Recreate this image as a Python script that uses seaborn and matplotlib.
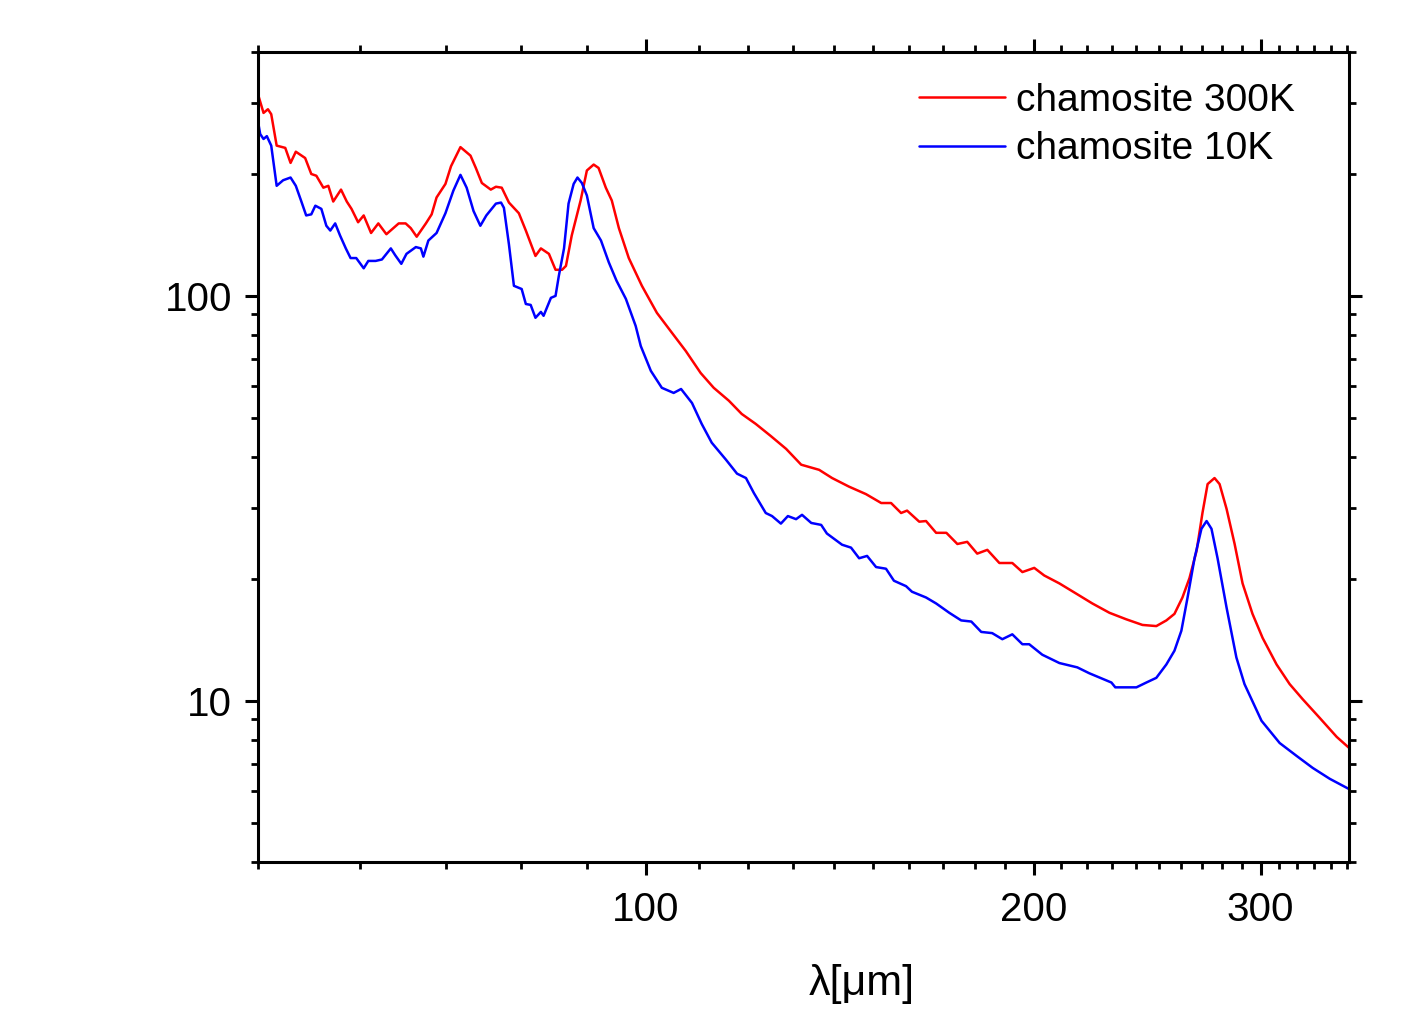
import matplotlib
matplotlib.use("Agg")
import matplotlib.pyplot as plt
import seaborn as sns
from matplotlib.ticker import FixedLocator, FixedFormatter, NullFormatter

# wavelength (um) and absorption
wl_300K = [50.0, 50.5, 50.9, 51.2, 51.7, 52.5, 53.0, 53.5, 54.4, 55.0,
           55.5, 56.2, 56.7, 57.2, 58.0, 58.6, 59.1, 59.8, 60.4, 61.2,
           62.0, 62.9, 64.3, 65.1, 65.7, 66.4, 67.5, 68.2, 68.8, 69.9,
           70.6, 71.8, 73.1, 73.8, 74.6, 75.8, 76.5, 77.3, 78.3, 79.7,
           80.7, 82.1, 82.9, 84.1, 85.1, 86.1, 86.7, 87.6, 89.0, 90.0,
           91.1, 91.9, 93.1, 94.1, 95.3, 97.0, 99.3, 100.0, 102.0, 104.8,
           107.4, 110.3, 112.9, 116.0, 118.7, 121.7, 125.0, 128.5, 132.0, 136.3,
           139.5, 143.8, 148.2, 152.3, 155.0, 157.8, 159.5, 163.0, 165.0, 168.0,
           171.1, 174.5, 177.6, 180.8, 184.1, 188.1, 192.5, 196.0, 200.2, 203.8,
           209.4, 215.8, 222.1, 229.0, 236.0, 242.9, 249.0, 253.5, 257.2, 260.9,
           264.2, 267.6, 270.4, 272.9, 276.3, 278.8, 282.3, 286.4, 290.5, 295.7,
           301.1, 308.7, 316.0, 323.4, 333.4, 343.7, 351.3]
abs_300K = [315, 283, 289, 281, 235, 232, 213, 227, 219, 200,
            198, 185, 187, 171, 183, 171, 164, 152, 158, 143,
            151, 142, 151, 151, 147, 140, 151, 159, 175, 189,
            209, 233, 222, 207, 190, 183, 186, 185, 170, 160,
            145, 125.5, 131, 127, 116, 116, 118.6, 141, 172, 204,
            211, 207, 185, 172, 147, 124, 105.9, 101.7, 90.8, 81.0,
            73.1, 64.5, 59.3, 55.1, 51.1, 48.3, 45.1, 41.9, 38.3, 37.2,
            35.5, 33.8, 32.4, 30.8, 30.8, 29.1, 29.5, 27.7, 27.8, 26.0,
            26.0, 24.4, 24.7, 23.1, 23.6, 21.9, 21.9, 20.8, 21.3, 20.4,
            19.5, 18.4, 17.4, 16.5, 15.9, 15.4, 15.3, 15.8, 16.4, 18.0,
            20.1, 23.5, 29.1, 34.3, 35.5, 34.3, 29.8, 24.4, 19.5, 16.4,
            14.3, 12.3, 11.0, 10.1, 9.08, 8.15, 7.66]

wl_10K = [50.0, 50.2, 50.5, 50.8, 51.2, 51.7, 52.3, 53.0, 53.5, 54.0,
          54.5, 55.0, 55.4, 56.0, 56.5, 56.9, 57.4, 57.9, 58.5, 59.0,
          59.6, 60.4, 60.9, 61.7, 62.4, 63.4, 63.9, 64.6, 65.2, 66.3,
          66.9, 67.2, 67.8, 68.8, 69.9, 70.9, 71.8, 72.6, 73.5, 74.4,
          75.2, 76.5, 77.2, 77.6, 78.3, 79.0, 80.1, 80.7, 81.4, 82.1,
          82.9, 83.3, 84.4, 85.1, 85.6, 86.4, 87.1, 87.9, 88.5, 89.2,
          90.0, 91.1, 92.3, 93.6, 94.9, 96.5, 98.2, 99.1, 100.9, 102.9,
          105.1, 106.5, 108.6, 110.5, 112.5, 115.4, 117.7, 119.6, 121.3, 123.9,
          125.3, 127.3, 128.9, 130.8, 132.2, 134.4, 136.8, 138.2, 142.0, 144.3,
          146.4, 148.5, 150.9, 153.6, 155.8, 159.2, 160.9, 165.0, 168.0, 172.0,
          175.7, 178.9, 182.1, 185.7, 189.1, 192.5, 196.0, 198.4, 203.1, 209.4,
          216.2, 220.9, 229.8, 231.4, 240.3, 244.6, 249.0, 253.5, 257.2, 260.4,
          263.3, 266.6, 269.9, 272.4, 274.8, 277.8, 282.3, 287.3, 291.5, 300.5,
          310.4, 320.0, 329.3, 339.5, 351.3]
abs_10K = [270, 251, 244, 248, 235, 187, 193, 196, 187, 172,
           158, 159, 167, 164, 149, 145, 151, 141, 131, 124,
           124, 117, 122, 122, 123, 131, 126, 120, 127, 132,
           131, 125, 137, 143, 160, 182, 199, 185, 162, 149,
           158, 169, 170, 165, 134, 105.9, 104, 95.5, 95.0, 88.3,
           91.3, 89.3, 98.9, 100, 112, 131, 169, 189, 196, 190,
           177, 147, 137, 121, 109, 98.3, 84.3, 75.2, 65.3, 59.3,
           57.6, 58.9, 54.4, 48.3, 43.4, 39.4, 36.4, 35.5, 32.6, 29.1,
           28.6, 27.4, 28.6, 28.1, 28.8, 27.5, 27.2, 25.9, 24.3, 23.9,
           22.5, 22.8, 21.4, 21.2, 19.8, 19.2, 18.6, 18.0, 17.4, 16.5,
           15.8, 15.7, 14.8, 14.7, 14.2, 14.6, 13.8, 13.8, 13.0, 12.4,
           12.1, 11.7, 11.1, 10.8, 10.8, 11.1, 11.4, 12.3, 13.3, 14.9,
           18.0, 22.5, 26.6, 27.8, 26.6, 22.5, 17.0, 12.8, 11.0, 8.93,
           7.87, 7.31, 6.83, 6.42, 6.06]

LABELS = ["chamosite 300K", "chamosite 10K"]
COLORS = ["#ff0000", "#0000ff"]

X_MAJOR = [100, 200, 300]
X_MINOR = [50, 60, 70, 80, 90, 110, 120, 130, 140, 150, 160, 170, 180, 190,
           210, 220, 230, 240, 250, 260, 270, 280, 290, 310, 320, 330, 340, 350]
Y_MAJOR = [10, 100]
Y_MINOR = [4, 5, 6, 7, 8, 9, 20, 30, 40, 50, 60, 70, 80, 90, 200, 300, 400]

sns.set_theme(style="ticks")
plt.rcParams['font.family'] = ['Liberation Sans', 'DejaVu Sans']
plt.rcParams['text.color'] = 'black'
plt.rcParams['axes.labelcolor'] = 'black'

fig = plt.figure(figsize=(14.15, 10.15), dpi=100)
ax = fig.add_axes([0.1823, 0.1507, 0.7710, 0.7980])

sns.lineplot(x=wl_300K, y=abs_300K, color=COLORS[0], linewidth=1.8,
             estimator=None, sort=False, label=LABELS[0], ax=ax)
sns.lineplot(x=wl_10K, y=abs_10K, color=COLORS[1], linewidth=1.8,
             estimator=None, sort=False, label=LABELS[1], ax=ax)

ax.set_xscale('log')
ax.set_yscale('log')
ax.set_xlim(50, 351.3)
ax.set_ylim(4, 400)

ax.xaxis.set_major_locator(FixedLocator(X_MAJOR))
ax.xaxis.set_major_formatter(FixedFormatter([str(v) for v in X_MAJOR]))
ax.xaxis.set_minor_locator(FixedLocator(X_MINOR))
ax.xaxis.set_minor_formatter(NullFormatter())
ax.yaxis.set_major_locator(FixedLocator(Y_MAJOR))
ax.yaxis.set_major_formatter(FixedFormatter([str(v) for v in Y_MAJOR]))
ax.yaxis.set_minor_locator(FixedLocator(Y_MINOR))
ax.yaxis.set_minor_formatter(NullFormatter())

for sp in ax.spines.values():
    sp.set_linewidth(2.2)
    sp.set_color('black')

ax.tick_params(which='both', direction='out', top=True, right=True,
               colors='black', labelcolor='black', labelsize=29)
ax.tick_params(which='major', length=9.5, width=2.2)
ax.tick_params(which='minor', length=5, width=2.0)
ax.tick_params(axis='x', which='major', pad=11)
ax.tick_params(axis='y', which='major', pad=9)

ax.set_xlabel("λ[μm]", fontsize=31, color='black')
ax.xaxis.set_label_coords(0.5536, -0.126)
ax.set_ylabel("")

leg = ax.legend(loc='upper left', bbox_to_anchor=(0.606, 0.962), frameon=False,
                fontsize=28, handlelength=2.2, handletextpad=0.3,
                labelspacing=0.32, borderpad=0, borderaxespad=0)
for t in leg.get_texts():
    t.set_color('black')

fig.savefig("out.png", dpi=100)
